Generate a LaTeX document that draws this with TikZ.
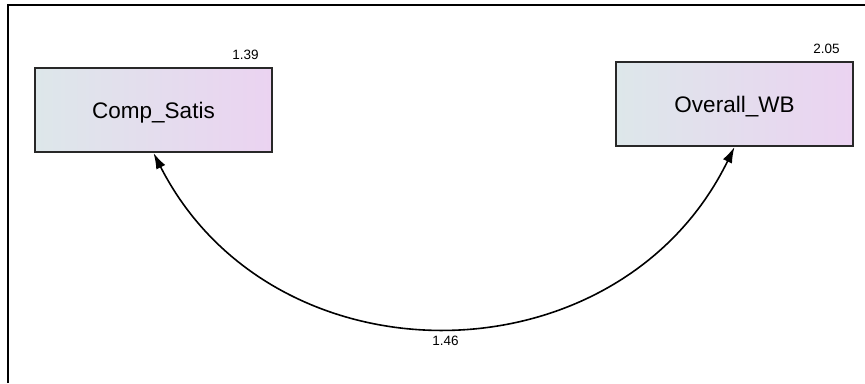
\documentclass[tikz,border=0pt]{standalone}
\usepackage{fontspec}
\setmainfont{Liberation Sans}
\usetikzlibrary{arrows.meta,calc}
\definecolor{boxleft}{RGB}{221,231,234}
\definecolor{boxright}{RGB}{235,211,241}
\definecolor{boxedge}{RGB}{40,40,40}
\tikzset{
  varbox/.style={draw=boxedge, line width=1.9pt, minimum width=237pt, minimum height=84pt,
    left color=boxleft, right color=boxright, inner sep=0pt,
    font=\fontsize{22.5}{26}\selectfont, text depth=0pt},
  estim/.style={inner sep=0pt, font=\fontsize{13.5}{15}\selectfont},
  covar/.style={line width=1.6pt, {Latex[length=16pt,width=10pt]}-{Latex[length=16pt,width=10pt]}},
  frameline/.style={line width=2.6pt}
}
\begin{document}
\begin{tikzpicture}[x=1pt,y=1pt]
\useasboundingbox (0,0) rectangle (865,383);
\draw[frameline] (8,0) -- (8,378) -- (865,378);
\node[varbox] (cs) at (153.5,273) {Comp\_Satis};
\node[varbox] (wb) at (734.5,279) {Overall\_WB};
\node[estim, anchor=base east] (v1) at ($(cs.north east)+(-14,8)$) {1.39};
\node[estim, anchor=base east] (v2) at ($(wb.north east)+(-14,8)$) {2.05};
\draw[covar] (cs.south) to[out=-63, in=-116, looseness=1.16]
  node[estim, pos=0.5, anchor=north, yshift=-8pt] (c12) {1.46} (wb.south);
\end{tikzpicture}
\end{document}
